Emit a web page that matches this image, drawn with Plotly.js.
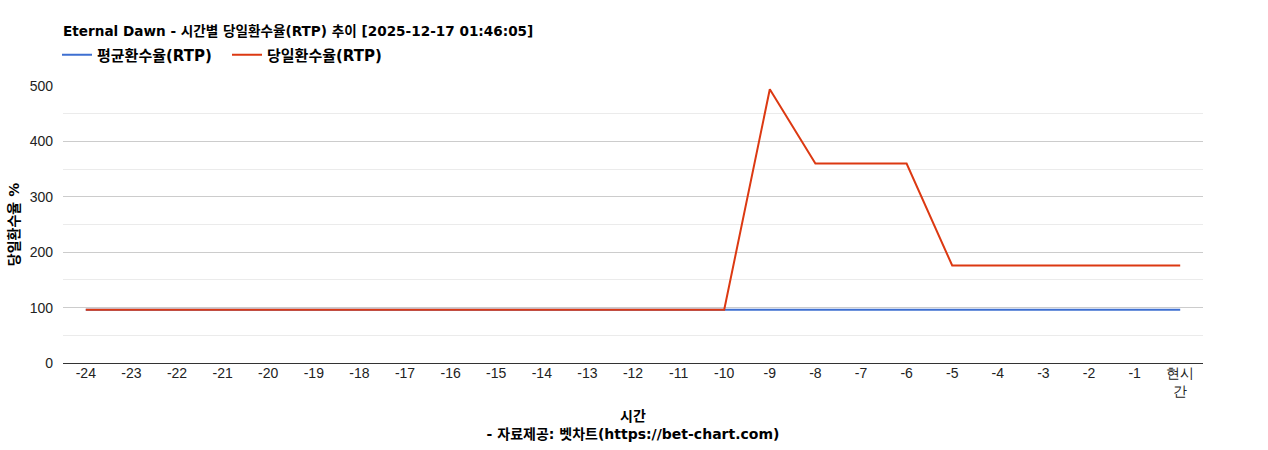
<!DOCTYPE html>
<html><head><meta charset="utf-8">
<script src="https://cdn.plot.ly/plotly-3.0.1.min.js"></script>
<style>html,body{margin:0;padding:0;background:#fff}#chart{width:1268px;height:450px}</style>
</head><body><div id="chart"></div>
<script>
const categories = ['-24','-23','-22','-21','-20','-19','-18','-17','-16','-15','-14','-13','-12','-11','-10','-9','-8','-7','-6','-5','-4','-3','-2','-1','현시<br>간'];
const avgRTP = [96,96,96,96,96,96,96,96,96,96,96,96,96,96,96,96,96,96,96,96,96,96,96,96,96];
const dailyRTP = [96,96,96,96,96,96,96,96,96,96,96,96,96,96,96,494,360,360,360,176,176,176,176,176,176];
const titleText = 'Eternal Dawn - 시간별 당일환수율(RTP) 추이 [2025-12-17 01:46:05]';
const kfont = '"DejaVu Sans", "Noto Sans CJK KR", Arial, sans-serif';

const traces = [
  {x: categories, y: avgRTP, name: '평균환수율(RTP)', type: 'scatter', mode: 'lines',
   line: {color: '#3e6fd1', width: 2}},
  {x: categories, y: dailyRTP, name: '당일환수율(RTP)', type: 'scatter', mode: 'lines',
   line: {color: '#dc3912', width: 2}}
];
const layout = {
  width: 1268, height: 450,
  margin: {l: 63, r: 65, t: 86, b: 87},
  paper_bgcolor: '#fff', plot_bgcolor: '#fff',
  font: {family: 'Arial, "Liberation Sans", sans-serif', size: 14, color: '#222'},
  title: {text: '<b>' + titleText + '</b>', x: 63/1268, xanchor: 'left', y: 1 - 31/450, yanchor: 'middle',
          font: {family: kfont, size: 13.6, color: '#000'}},
  showlegend: true,
  legend: {orientation: 'h', x: -6/1140, xanchor: 'left', y: 1 - 55/450, yanchor: 'middle', yref: 'container',
           entrywidth: 125, entrywidthmode: 'pixels',
           font: {family: kfont, size: 15, color: '#000', weight: 'bold'}, traceorder: 'normal'},
  xaxis: {type: 'category', range: [-0.5, 24.5], showgrid: false, zeroline: false,
          showline: false, ticks: '', tickfont: {size: 14, color: '#222'},
          title: {text: '<b>시간</b><br><b>- 자료제공: 벳차트(https://bet-chart.com)</b>', standoff: 12,
                  font: {family: kfont, size: 14, color: '#000'}}},
  yaxis: {range: [0, 500], dtick: 100, tick0: 0, showgrid: true, gridcolor: '#cccccc', gridwidth: 1,
          zeroline: true, zerolinecolor: '#333', zerolinewidth: 1, ticks: '', tickfont: {size: 14, color: '#222'},
          ticklabelstandoff: 9,
          minor: {dtick: 50, showgrid: true, gridcolor: '#ebebeb', gridwidth: 1},
          title: {text: '<b>당일환수율 %</b>', standoff: 6, font: {family: kfont, size: 14, color: '#000'}}}
};
Plotly.newPlot('chart', traces, layout, {displayModeBar: false, staticPlot: true});
</script></body></html>
